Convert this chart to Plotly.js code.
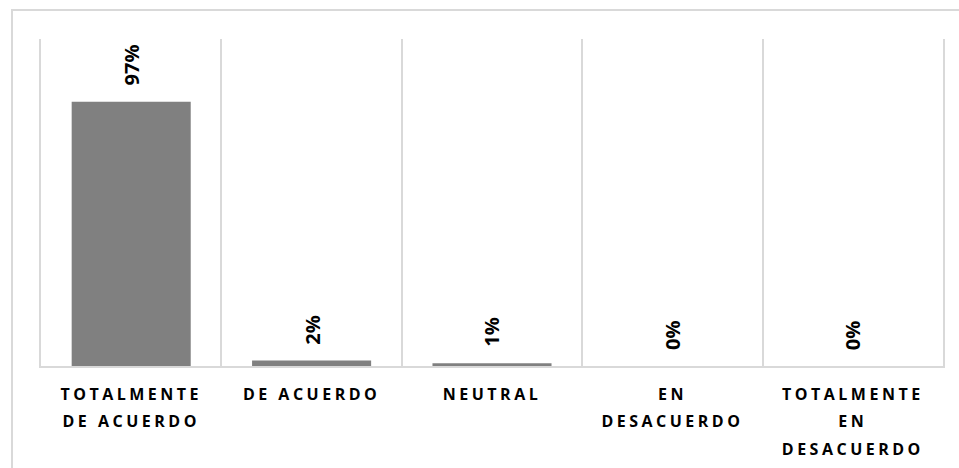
<!DOCTYPE html>
<html>
<head>
<meta charset="utf-8">
<script src="https://cdn.plot.ly/plotly-3.0.1.min.js"></script>
<style>
  html, body { margin: 0; padding: 0; background: #ffffff; }
  #wrap { position: relative; width: 959px; height: 468px; overflow: hidden; }
  #frame { position: absolute; left: 11px; top: 9px; width: 980px; height: 500px; border: 2px solid #d9d9d9; box-sizing: border-box; pointer-events: none; }
  #chart { position: absolute; left: 0; top: 0; width: 959px; height: 468px; }
  #chart .xtick text { letter-spacing: 3.5px; }
</style>
</head>
<body>
<div id="wrap">
  <div id="frame"></div>
  <div id="chart"></div>
</div>
<script>
const categories = [
  "TOTALMENTE<br>DE ACUERDO",
  "DE ACUERDO",
  "NEUTRAL",
  "EN<br>DESACUERDO",
  "TOTALMENTE<br>EN<br>DESACUERDO"
];
const values = [97, 2, 1, 0, 0];
const valueLabels = ["97%", "2%", "1%", "0%", "0%"];

const FONT = "'Open Sans', Lato, sans-serif";

const trace = {
  type: "bar",
  x: categories,
  y: values,
  marker: { color: "#808080", line: { width: 0 } },
  hoverinfo: "none"
};

const annotations = categories.map((c, i) => ({
  x: c,
  y: values[i],
  xref: "x",
  yref: "y",
  text: "<b>" + valueLabels[i] + "</b>",
  textangle: -90,
  showarrow: false,
  xanchor: "center",
  yanchor: "bottom",
  yshift: 14,
  font: { family: FONT, size: 20, color: "#000000" }
}));

const layout = {
  width: 959,
  height: 468,
  margin: { l: 41, r: 16, t: 39, b: 102, pad: 0 },
  paper_bgcolor: "rgba(0,0,0,0)",
  plot_bgcolor: "rgba(0,0,0,0)",
  showlegend: false,
  bargap: 0.34,
  xaxis: {
    type: "category",
    tickson: "boundaries",
    showgrid: true,
    gridcolor: "#d9d9d9",
    gridwidth: 2,
    showline: true,
    linecolor: "#d9d9d9",
    linewidth: 2,
    ticks: "",
    ticklabelstandoff: 13,
    tickfont: { family: FONT, size: 16, color: "#000000", weight: "bold" },
    fixedrange: true
  },
  yaxis: {
    range: [0, 120],
    showgrid: false,
    zeroline: false,
    showticklabels: false,
    ticks: "",
    showline: true,
    mirror: true,
    linecolor: "#d9d9d9",
    linewidth: 2,
    fixedrange: true
  },
  annotations: annotations
};

function spreadLines() {
  document.querySelectorAll("#chart .xtick text").forEach(t => {
    t.querySelectorAll("tspan.line").forEach((ts, n) => {
      ts.setAttribute("dy", (n * 1.7) + "em");
    });
  });
}

Plotly.newPlot("chart", [trace], layout, { displayModeBar: false, staticPlot: true })
  .then(gd => { spreadLines(); gd.on("plotly_afterplot", spreadLines); });
</script>
</body>
</html>
